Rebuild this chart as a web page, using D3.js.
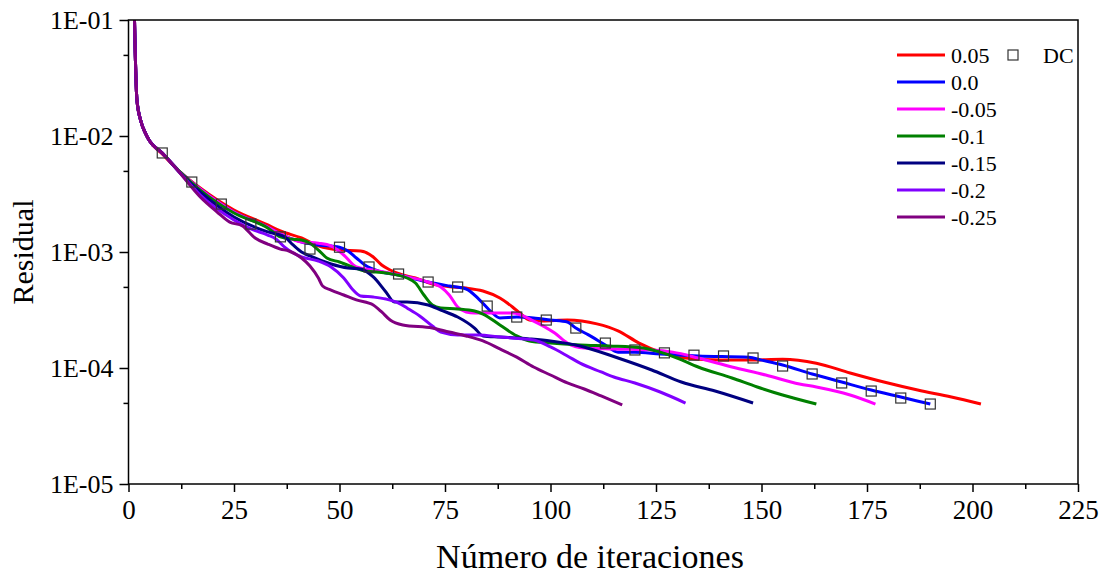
<!DOCTYPE html>
<html>
<head>
<meta charset="utf-8">
<script src="https://cdn.jsdelivr.net/npm/d3@7"></script>
<style>
  body { margin: 0; background: #fff; }
  svg { display: block; }
  text { font-family: "Liberation Serif", "Times New Roman", serif; fill: #000; }
</style>
</head>
<body>
<svg id="chart" width="1108" height="577"></svg>
<script>
// Axis ticks
const xTicks = [0, 25, 50, 75, 100, 125, 150, 175, 200, 225];
const xMinorTicks = [12.5, 37.5, 62.5, 87.5, 112.5, 137.5, 162.5, 187.5, 212.5];
const yTicks = [1e-1, 1e-2, 1e-3, 1e-4, 1e-5];
const yTickLabels = ["1E-01", "1E-02", "1E-03", "1E-04", "1E-05"];
const yMinorTicks = [5e-2, 5e-3, 5e-4, 5e-5];

const seriesNames = ["0.05", "0.0", "-0.05", "-0.1", "-0.15", "-0.2", "-0.25"];
const seriesColors = ["#ff0000", "#0000ff", "#ff00ff", "#008000", "#000080", "#8000ff", "#800080"];

// Residual history for each case (iteration, residual)
const iter005 = [1,2,3,4,5,8,12,17,25,33,36,41,45,50,55,58,60,62,65,68,72,77,80,84,88,91,93,95,98,104,111,116,121,126,132,140,147,155,163,171,179,187,195,202];
const res005 = [0.6,2.04e-2,1.32e-2,1.06e-2,9.06e-3,7.00e-3,4.99e-3,3.56e-3,2.30e-3,1.71e-3,1.52e-3,1.32e-3,1.13e-3,1.04e-3,1.02e-3,9.06e-4,7.72e-4,7.00e-4,6.33e-4,5.97e-4,5.30e-4,4.99e-4,4.89e-4,4.61e-4,4.01e-4,3.36e-4,2.92e-4,2.59e-4,2.54e-4,2.59e-4,2.40e-4,2.09e-4,1.64e-4,1.37e-4,1.22e-4,1.17e-4,1.17e-4,1.19e-4,1.10e-4,9.06e-5,7.57e-5,6.46e-5,5.62e-5,4.89e-5];

const iter00 = [1,2,3,4,5,8,12,17,25,33,36,41,45,50,52,54,56,60,64,71,76,80,83,86,88,92,96,100,104,106,109,113,116,120,126,135,147,150,155,162,169,176,183,190];
const res00 = [0.6,2.04e-2,1.32e-2,1.06e-2,9.06e-3,7.14e-3,4.99e-3,3.49e-3,2.21e-3,1.64e-3,1.43e-3,1.22e-3,1.15e-3,1.10e-3,1.02e-3,8.88e-4,7.72e-4,6.72e-4,6.33e-4,5.51e-4,5.09e-4,4.80e-4,3.93e-4,3.04e-4,2.70e-4,2.75e-4,2.70e-4,2.59e-4,2.49e-4,2.21e-4,1.93e-4,1.58e-4,1.37e-4,1.37e-4,1.32e-4,1.27e-4,1.24e-4,1.17e-4,1.06e-4,8.88e-5,7.57e-5,6.46e-5,5.62e-5,4.89e-5];

const iterM005 = [1,2,3,4,5,8,12,17,25,33,36,41,45,48,51,54,58,64,71,74,76,78,80,82,88,91,96,101,104,108,115,124,129,135,143,151,159,163,171,177];
const resM005 = [0.6,2.04e-2,1.32e-2,1.06e-2,9.06e-3,7.14e-3,4.99e-3,3.49e-3,2.21e-3,1.64e-3,1.43e-3,1.22e-3,1.19e-3,1.13e-3,9.42e-4,7.43e-4,7.00e-4,6.33e-4,5.51e-4,4.99e-4,4.26e-4,3.36e-4,3.04e-4,2.98e-4,2.98e-4,2.98e-4,2.54e-4,2.00e-4,1.64e-4,1.49e-4,1.46e-4,1.43e-4,1.37e-4,1.22e-4,1.02e-4,8.70e-5,7.28e-5,6.86e-5,5.85e-5,4.89e-5];

const iterM01 = [1,2,3,4,5,8,12,17,25,33,36,39,41,43,45,47,50,56,61,66,68,70,72,74,78,82,84,88,92,95,100,107,114,122,126,130,135,143,149,155,163];
const resM01 = [0.6,2.04e-2,1.32e-2,1.06e-2,9.06e-3,7.14e-3,4.99e-3,3.42e-3,2.17e-3,1.61e-3,1.35e-3,1.29e-3,1.27e-3,1.19e-3,1.04e-3,8.88e-4,8.20e-4,6.86e-4,6.59e-4,5.97e-4,5.40e-4,4.26e-4,3.49e-4,3.29e-4,3.23e-4,3.10e-4,2.92e-4,2.35e-4,1.89e-4,1.71e-4,1.64e-4,1.58e-4,1.55e-4,1.49e-4,1.37e-4,1.22e-4,1.02e-4,8.20e-5,6.86e-5,5.85e-5,4.89e-5];

const iterM015 = [1,2,3,4,5,8,12,17,25,33,37,39,41,43,48,52,55,58,61,63,66,71,74,78,82,84,88,95,100,107,116,124,131,139,148];
const resM015 = [0.6,2.04e-2,1.32e-2,1.06e-2,9.06e-3,7.14e-3,4.89e-3,3.29e-3,2.00e-3,1.49e-3,1.35e-3,1.15e-3,1.00e-3,9.24e-4,7.88e-4,7.28e-4,7.14e-4,6.09e-4,4.52e-4,3.71e-4,3.71e-4,3.49e-4,3.16e-4,2.75e-4,2.21e-4,1.89e-4,1.85e-4,1.78e-4,1.71e-4,1.55e-4,1.22e-4,9.61e-5,7.57e-5,6.33e-5,4.99e-5];

const iterM02 = [1,2,3,4,5,8,12,17,25,29,33,35,37,41,45,48,51,53,55,58,61,64,66,69,72,74,78,83,88,96,100,104,107,112,115,120,126,132];
const resM02 = [0.6,2.04e-2,1.32e-2,1.06e-2,9.06e-3,7.14e-3,4.89e-3,3.10e-3,1.89e-3,1.58e-3,1.40e-3,1.29e-3,1.10e-3,9.06e-4,8.36e-4,7.43e-4,5.97e-4,4.80e-4,4.18e-4,4.09e-4,3.93e-4,3.63e-4,3.29e-4,2.81e-4,2.30e-4,2.04e-4,1.93e-4,1.93e-4,1.85e-4,1.74e-4,1.52e-4,1.27e-4,1.10e-4,9.24e-5,8.36e-5,7.43e-5,6.21e-5,4.99e-5];

const iterM025 = [1,2,3,4,5,8,12,17,21,24,27,30,33,36,38,41,43,45,46,48,51,54,58,60,62,65,72,76,80,84,88,92,96,100,104,108,112,117];
const resM025 = [0.6,2.04e-2,1.32e-2,1.06e-2,9.06e-3,7.14e-3,4.89e-3,2.98e-3,2.21e-3,1.81e-3,1.68e-3,1.32e-3,1.17e-3,1.06e-3,1.02e-3,8.88e-4,7.57e-4,5.97e-4,5.09e-4,4.70e-4,4.26e-4,3.86e-4,3.49e-4,3.04e-4,2.59e-4,2.35e-4,2.21e-4,2.04e-4,1.89e-4,1.71e-4,1.46e-4,1.24e-4,1.02e-4,8.70e-5,7.43e-5,6.59e-5,5.74e-5,4.80e-5];

// DC reference points
const dcIter = [8,15,22,29,36,43,50,57,64,71,78,85,92,99,106,113,120,127,134,141,148,155,162,169,176,183,190];
const dcRes = [7.14e-3,4.01e-3,2.59e-3,1.74e-3,1.35e-3,1.06e-3,1.10e-3,7.43e-4,6.46e-4,5.51e-4,4.99e-4,3.42e-4,2.75e-4,2.59e-4,2.21e-4,1.64e-4,1.43e-4,1.35e-4,1.29e-4,1.27e-4,1.22e-4,1.04e-4,8.88e-5,7.43e-5,6.33e-5,5.51e-5,4.89e-5];

const seriesIters = [iter005, iter00, iterM005, iterM01, iterM015, iterM02, iterM025];
const seriesRes = [res005, res00, resM005, resM01, resM015, resM02, resM025];

const svg = d3.select("#chart");
const plot = { left: 128.5, right: 1078, top: 20, bottom: 484 };

const x = d3.scaleLinear().domain([0, 225]).range([plot.left, plot.right]);
const y = d3.scaleLog().domain([1e-5, 1e-1]).range([plot.bottom, plot.top]);

svg.append("defs").append("clipPath").attr("id", "plotClip")
  .append("rect")
  .attr("x", plot.left).attr("y", plot.top)
  .attr("width", plot.right - plot.left).attr("height", plot.bottom - plot.top);

// Curves
const line = d3.line()
  .x(d => x(d[0]))
  .y(d => y(d[1]))
  .curve(d3.curveMonotoneX);

const curves = svg.append("g").attr("clip-path", "url(#plotClip)");
seriesIters.forEach((its, i) => {
  const pts = its.map((it, j) => [it, seriesRes[i][j]]);
  curves.append("path")
    .attr("d", line(pts))
    .attr("fill", "none")
    .attr("stroke", seriesColors[i])
    .attr("stroke-width", 3)
    .attr("stroke-linejoin", "round")
    .attr("stroke-linecap", "butt");
});

// DC markers
curves.selectAll("rect.dc")
  .data(dcIter.map((it, j) => [it, dcRes[j]]))
  .join("rect")
  .attr("class", "dc")
  .attr("x", d => x(d[0]) - 5)
  .attr("y", d => y(d[1]) - 5)
  .attr("width", 10)
  .attr("height", 10)
  .attr("fill", "none")
  .attr("stroke", "#333")
  .attr("stroke-width", 1.2);

// Frame
svg.append("rect")
  .attr("x", plot.left).attr("y", plot.top)
  .attr("width", plot.right - plot.left).attr("height", plot.bottom - plot.top)
  .attr("fill", "none").attr("stroke", "#000").attr("stroke-width", 1.5);

// X axis
const xAxis = d3.axisBottom(x).tickValues(xTicks).tickSize(8).tickSizeOuter(0).tickPadding(8)
  .tickFormat(d3.format("d"));
const gx = svg.append("g").attr("transform", `translate(0,${plot.bottom})`).call(xAxis);
gx.select(".domain").remove();
gx.attr("font-family", null);
gx.selectAll(".tick line").attr("stroke", "#000").attr("stroke-width", 1.5);
gx.selectAll(".tick text").attr("font-size", 27);
const gxm = svg.append("g").attr("transform", `translate(0,${plot.bottom})`)
  .call(d3.axisBottom(x).tickValues(xMinorTicks).tickSize(5).tickFormat(""));
gxm.select(".domain").remove();
gxm.selectAll(".tick line").attr("stroke", "#000").attr("stroke-width", 1.5);

// Y axis
const yAxis = d3.axisLeft(y).tickValues(yTicks).tickSize(9).tickSizeOuter(0).tickPadding(6)
  .tickFormat((d, i) => yTickLabels[i]);
const gy = svg.append("g").attr("transform", `translate(${plot.left},0)`).call(yAxis);
gy.select(".domain").remove();
gy.attr("font-family", null);
gy.selectAll(".tick line").attr("stroke", "#000").attr("stroke-width", 1.5);
gy.selectAll(".tick text").attr("font-size", 26);
const gym = svg.append("g").attr("transform", `translate(${plot.left},0)`)
  .call(d3.axisLeft(y).tickValues(yMinorTicks).tickSize(5).tickFormat(""));
gym.select(".domain").remove();
gym.selectAll(".tick line").attr("stroke", "#000").attr("stroke-width", 1.5);

// Axis titles
svg.append("text")
  .attr("x", 590)
  .attr("y", 568)
  .attr("text-anchor", "middle")
  .attr("font-size", 34)
  .text("Número de iteraciones");

svg.append("text")
  .attr("transform", `translate(33,${(plot.top + plot.bottom) / 2}) rotate(-90)`)
  .attr("text-anchor", "middle")
  .attr("font-size", 30)
  .text("Residual");

// Legend
const legend = svg.append("g");
const legY0 = 55, legStep = 27;
seriesNames.forEach((name, i) => {
  const ly = legY0 + i * legStep;
  legend.append("line")
    .attr("x1", 897).attr("x2", 945).attr("y1", ly).attr("y2", ly)
    .attr("stroke", seriesColors[i]).attr("stroke-width", 3);
  legend.append("text")
    .attr("x", 951).attr("y", ly).attr("dy", "0.35em")
    .attr("font-size", 22)
    .text(name);
});
legend.append("rect")
  .attr("x", 1008).attr("y", legY0 - 5).attr("width", 10).attr("height", 10)
  .attr("fill", "none").attr("stroke", "#333").attr("stroke-width", 1.2);
legend.append("text")
  .attr("x", 1043).attr("y", legY0).attr("dy", "0.35em")
  .attr("font-size", 22)
  .text("DC");
</script>
</body>
</html>
